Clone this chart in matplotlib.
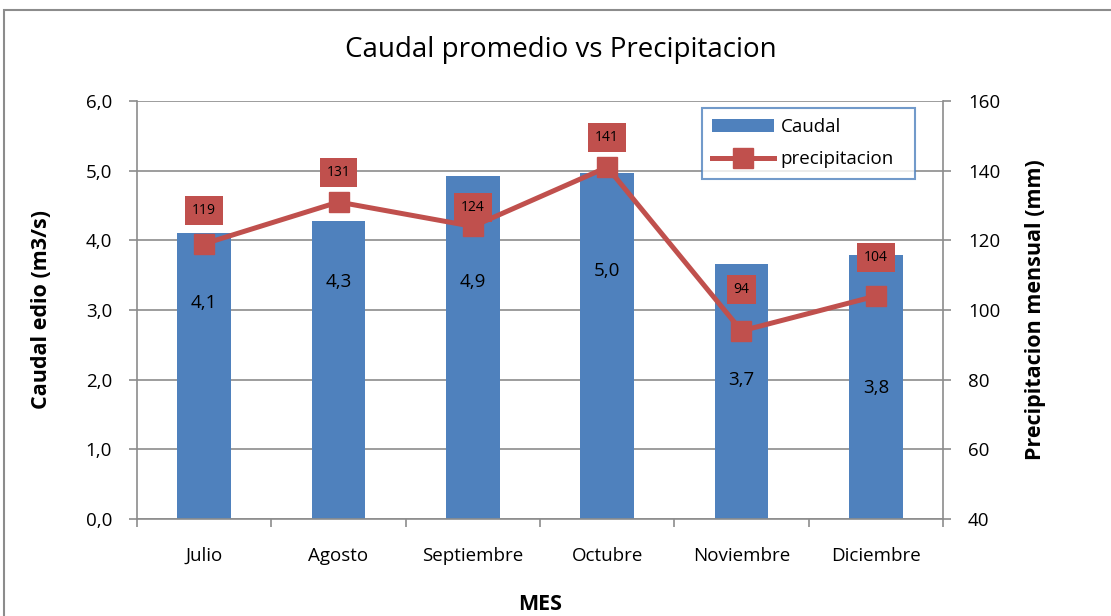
import matplotlib.pyplot as plt
import numpy as np
from matplotlib.patches import Rectangle

plt.rcParams['font.family'] = ['Open Sans', 'DejaVu Sans']

# data
meses = ["Julio", "Agosto", "Septiembre", "Octubre", "Noviembre", "Diciembre"]
caudal = [4.1, 4.28, 4.92, 4.97, 3.66, 3.79]
precipitacion = [119, 131, 124, 141, 94, 104]

# where the bar value labels sit (data units on left axis)
caudal_label_y = [3.1, 3.4, 3.4, 3.56, 2.0, 1.88]
# offset of precipitation labels above marker (right-axis units)
precip_label_dy = [9.5, 8.5, 5.5, 8.5, 12, 11]

azul = "#4f81bd"
rojo = "#c0504d"
gris = "#8c8c8c"

fig = plt.figure(figsize=(11.11, 6.16), dpi=100)
fig.patches.append(Rectangle((4 / 1111, -0.01), 1.02, 1 - 10 / 616 + 0.01,
                             transform=fig.transFigure, fill=False,
                             edgecolor=gris, linewidth=1.5))
ax = fig.add_axes([137 / 1111, 97 / 616, 806 / 1111, 418 / 616])
ax2 = ax.twinx()

x = np.arange(len(meses))
ax.bar(x, caudal, width=0.4, color=azul, zorder=2, label="Caudal")
for xi, v, ly in zip(x, caudal, caudal_label_y):
    ax.text(xi, ly, f"{v:.1f}".replace(".", ","), ha="center", va="center",
            fontsize=13.5, color="black", zorder=3)

ax.set_xlim(-0.5, len(meses) - 0.5)
ax.set_ylim(0, 6)
ax.set_yticks(np.arange(0, 6.1, 1))
ax.set_yticklabels([f"{v:.1f}".replace(".", ",") for v in np.arange(0, 6.1, 1)])
ax.grid(axis="y", color=gris, linewidth=1.2, zorder=0)
ax.set_axisbelow(True)
ax.set_xticks(x)
ax.set_xticklabels(meses)
ax.set_xticks(np.arange(-0.5, len(meses)), minor=True)
ax.tick_params(axis="x", which="major", length=0, pad=20, labelsize=13.5)
ax.tick_params(axis="x", which="minor", length=6, color=gris, width=1.2)
ax.tick_params(axis="y", length=6, color=gris, width=1.2, labelsize=13.5, pad=12)
for s in ["top", "right"]:
    ax.spines[s].set_visible(False)
for s in ["left", "bottom"]:
    ax.spines[s].set_color(gris)
    ax.spines[s].set_linewidth(1.2)

ax.set_xlabel("MES", fontsize=15.5, fontweight="bold", labelpad=21)
ax.set_ylabel("Caudal edio (m3/s)", fontsize=15.5, fontweight="bold", labelpad=24)

ax2.plot(x, precipitacion, color=rojo, linewidth=3.6, marker="s",
         markersize=14, label="precipitacion", zorder=4)
for xi, v, dy in zip(x, precipitacion, precip_label_dy):
    ax2.text(xi, v + dy, str(v), ha="center", va="center", fontsize=10,
             color="black", zorder=5,
             bbox=dict(boxstyle="square,pad=0.5", facecolor=rojo, edgecolor="none"))
ax2.set_ylim(40, 160)
ax2.set_yticks(np.arange(40, 161, 20))
ax2.tick_params(axis="y", length=6, color=gris, width=1.2, labelsize=13.5, pad=12)
for s in ["top", "left", "bottom"]:
    ax2.spines[s].set_visible(False)
ax2.spines["right"].set_color(gris)
ax2.spines["right"].set_linewidth(1.2)
ax2.set_ylabel("Precipitacion mensual (mm)", fontsize=15.5, fontweight="bold",
               labelpad=18)

fig.text(561 / 1111, 1 - 50 / 616, "Caudal promedio vs Precipitacion",
         fontsize=20, ha="center", va="center")

h1, l1 = ax.get_legend_handles_labels()
h2, l2 = ax2.get_legend_handles_labels()
leg = ax2.legend(h1 + h2, l1 + l2, loc="upper left",
                 bbox_to_anchor=(702 / 1111, 1 - 180 / 616, 213 / 1111, 72 / 616),
                 bbox_transform=fig.transFigure, mode="expand",
                 fontsize=13.5, frameon=True, fancybox=False, borderaxespad=0,
                 handlelength=3.3, handletextpad=0.35, labelspacing=0.75,
                 borderpad=0.55)
leg.get_frame().set_edgecolor(azul)
leg.get_frame().set_linewidth(1.5)

fig.savefig("out.png", dpi=100)
